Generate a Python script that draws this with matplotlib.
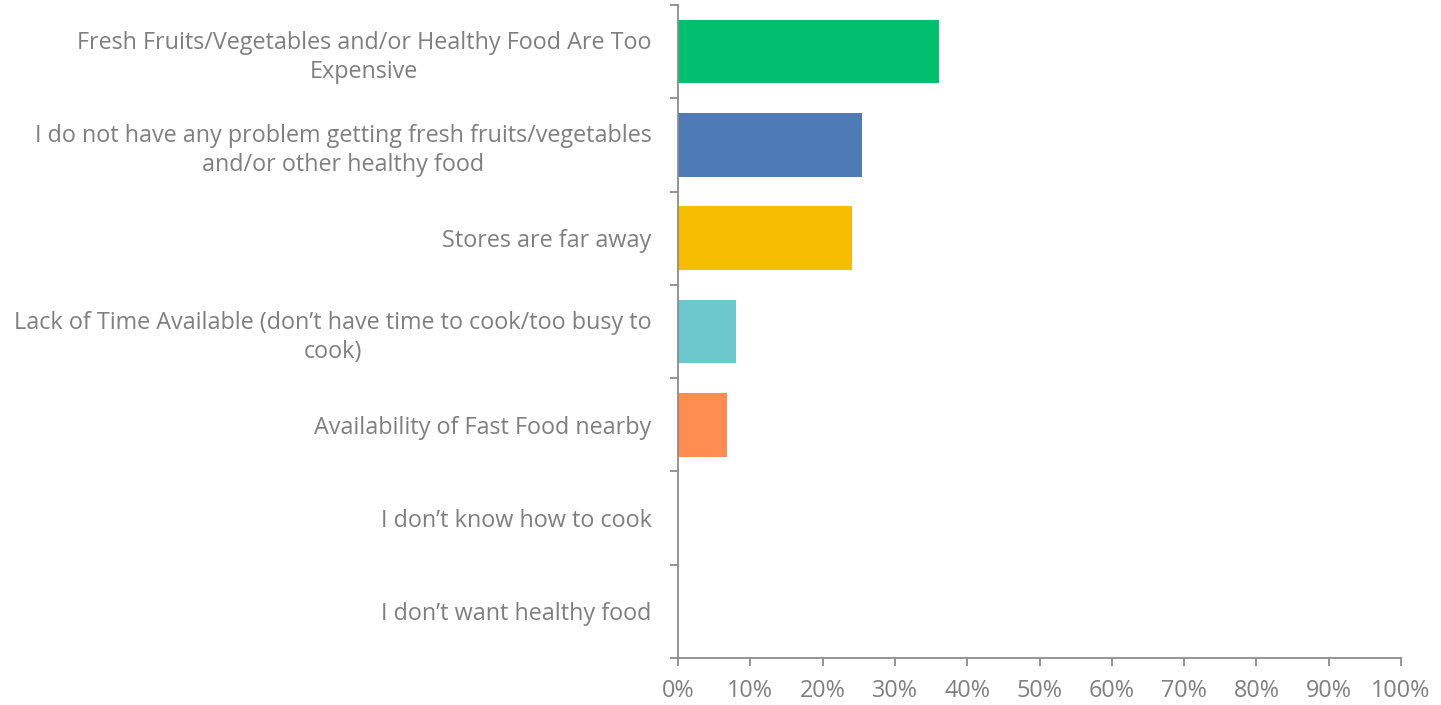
import matplotlib.pyplot as plt
from matplotlib.ticker import PercentFormatter

categories = [
    'Fresh Fruits/Vegetables and/or Healthy Food Are Too\nExpensive',
    'I do not have any problem getting fresh fruits/vegetables\nand/or other healthy food',
    'Stores are far away',
    'Lack of Time Available (don\u2019t have time to cook/too busy to\ncook)',
    'Availability of Fast Food nearby',
    'I don\u2019t know how to cook',
    'I don\u2019t want healthy food',
]
values = [36.1, 25.4, 24.1, 8.0, 6.8, 0, 0]
colors = ['#00BF6F', '#4E7AB5', '#F7BD00', '#6CC8CC', '#FF8C50', '#999999', '#999999']

plt.rcParams['font.family'] = ['Open Sans', 'DejaVu Sans']
grey = '#7f7f7f'
axis_col = '#8c8c8c'

fig = plt.figure(figsize=(14.41, 7.05), dpi=100)
ax = fig.add_axes([678 / 1441, 1 - 658 / 705, 723 / 1441, 653 / 705])

y = list(range(len(categories)))
ax.barh(y, values, height=0.68, color=colors)
ax.set_ylim(len(categories) - 0.5, -0.5)
ax.set_xlim(0, 100)

ax.set_yticks(y)
ax.set_yticklabels(categories, fontsize=16.8, color=grey, multialignment='center',
                   linespacing=1.3)
ax.tick_params(axis='y', length=0, pad=19)
ax.set_yticks([i - 0.5 for i in range(len(categories) + 1)], minor=True)
ax.tick_params(axis='y', which='minor', length=6, width=1.3, color=axis_col)

ax.set_xticks(range(0, 101, 10))
ax.xaxis.set_major_formatter(PercentFormatter(decimals=0))
ax.tick_params(axis='x', length=6, width=1.3, color=axis_col, labelsize=16.8,
               labelcolor=grey, pad=9)

for s in ['top', 'right']:
    ax.spines[s].set_visible(False)
for s in ['left', 'bottom']:
    ax.spines[s].set_color(axis_col)
    ax.spines[s].set_linewidth(1.3)

fig.savefig('out.png', dpi=100)
